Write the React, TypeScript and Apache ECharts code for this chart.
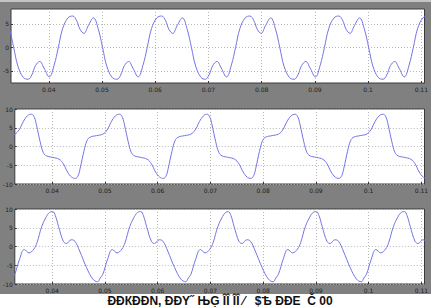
import React, { useEffect, useRef } from "react";
import * as echarts from "echarts";

const xTicks = [0.04, 0.05, 0.06, 0.07, 0.08, 0.09, 0.1, 0.11];
const yTicks1 = [-5, 0, 5];
const yTicks23 = [-10, -5, 0, 5, 10];
const caption = "ÐÐКÐÐN, ÐÐY˝ ЊĢ ÎÎ ÎÎ ⁄   $Ѣ ÐÐЕ  Č 00";

const wave1: [number, number][] = [
  [0.0317, 6.3], [0.0326, 3.9], [0.0334, 0], [0.0342, -4.0], [0.0352, -6.4],
  [0.0361, -6.8], [0.0368, -5.9], [0.0375, -3.9], [0.0383, -3.0], [0.0391, -4.4], [0.0401, -6.3], [0.041, -3.8],
  [0.0418, 0], [0.0426, 4.0], [0.0436, 6.3], [0.0445, 6.7], [0.0452, 5.8], [0.0459, 3.8], [0.0466, 3.0],
  [0.0474, 4.6], [0.0484, 6.3], [0.0493, 3.9], [0.0501, 0], [0.0509, -4.0], [0.0519, -6.4],
  [0.0528, -6.8], [0.0535, -5.9], [0.0542, -3.9], [0.055, -3.0], [0.0558, -4.4], [0.0568, -6.3], [0.0577, -3.8],
  [0.0585, 0], [0.0593, 4.0], [0.0603, 6.3], [0.0612, 6.7], [0.0619, 5.8], [0.0626, 3.8], [0.0633, 3.0],
  [0.0641, 4.6], [0.0651, 6.3], [0.066, 3.9], [0.0668, 0], [0.0676, -4.0], [0.0686, -6.4],
  [0.0694, -6.8], [0.0701, -5.9], [0.0708, -3.9], [0.0716, -3.0], [0.0724, -4.4], [0.0734, -6.3], [0.0743, -3.8],
  [0.0751, 0], [0.0759, 4.0], [0.0769, 6.3], [0.0778, 6.7], [0.0785, 5.8], [0.0792, 3.8], [0.0799, 3.0],
  [0.0807, 4.6], [0.0817, 6.3], [0.0826, 3.9], [0.0834, 0], [0.0842, -4.0], [0.0852, -6.4],
  [0.0861, -6.8], [0.0868, -5.9], [0.0875, -3.9], [0.0883, -3.0], [0.0891, -4.4], [0.0901, -6.3], [0.091, -3.8],
  [0.0918, 0], [0.0926, 4.0], [0.0936, 6.3], [0.0945, 6.7], [0.0952, 5.8], [0.0959, 3.8], [0.0966, 3.0],
  [0.0974, 4.6], [0.0984, 6.3], [0.0993, 3.9], [0.1001, 0], [0.1009, -4.0], [0.1019, -6.4],
  [0.1028, -6.8], [0.1035, -5.9], [0.1042, -3.9], [0.105, -3.0], [0.1058, -4.4], [0.1068, -6.3], [0.1077, -3.8],
  [0.1085, 0], [0.1093, 4.0], [0.1103, 6.3], [0.1112, 6.7],
];

const wave2: [number, number][] = [
  [0.0317, 2.9], [0.0329, 3.3], [0.0337, 4.4], [0.0345, 6.6], [0.0353, 8.2],
  [0.0361, 8.6], [0.0366, 7.8], [0.037, 5.8], [0.0377, 1.3], [0.0383, -1.6], [0.0389, -2.5], [0.0401, -2.9],
  [0.0413, -3.4], [0.0421, -4.6], [0.0429, -6.8], [0.0437, -8.2], [0.0444, -8.5], [0.0449, -7.8], [0.0453, -5.8],
  [0.046, -1.3], [0.0466, 1.6], [0.0472, 2.5], [0.0484, 2.9], [0.0496, 3.3], [0.0504, 4.4], [0.0512, 6.6], [0.052, 8.2],
  [0.0528, 8.6], [0.0533, 7.8], [0.0537, 5.8], [0.0544, 1.3], [0.055, -1.6], [0.0556, -2.5], [0.0568, -2.9],
  [0.058, -3.4], [0.0588, -4.6], [0.0596, -6.8], [0.0604, -8.2], [0.0611, -8.5], [0.0616, -7.8], [0.062, -5.8],
  [0.0627, -1.3], [0.0633, 1.6], [0.0639, 2.5], [0.0651, 2.9], [0.0663, 3.3], [0.0671, 4.4], [0.0679, 6.6], [0.0687, 8.2],
  [0.0694, 8.6], [0.0699, 7.8], [0.0703, 5.8], [0.071, 1.3], [0.0716, -1.6], [0.0722, -2.5], [0.0734, -2.9],
  [0.0746, -3.4], [0.0754, -4.6], [0.0762, -6.8], [0.077, -8.2], [0.0777, -8.5], [0.0782, -7.8], [0.0786, -5.8],
  [0.0793, -1.3], [0.0799, 1.6], [0.0805, 2.5], [0.0817, 2.9], [0.0829, 3.3], [0.0837, 4.4], [0.0845, 6.6], [0.0853, 8.2],
  [0.0861, 8.6], [0.0866, 7.8], [0.087, 5.8], [0.0877, 1.3], [0.0883, -1.6], [0.0889, -2.5], [0.0901, -2.9],
  [0.0913, -3.4], [0.0921, -4.6], [0.0929, -6.8], [0.0937, -8.2], [0.0944, -8.5], [0.0949, -7.8], [0.0953, -5.8],
  [0.096, -1.3], [0.0966, 1.6], [0.0972, 2.5], [0.0984, 2.9], [0.0996, 3.3], [0.1004, 4.4], [0.1012, 6.6], [0.102, 8.2],
  [0.1028, 8.6], [0.1033, 7.8], [0.1037, 5.8], [0.1044, 1.3], [0.105, -1.6], [0.1056, -2.5], [0.1068, -2.9],
  [0.108, -3.4], [0.1088, -4.6], [0.1096, -6.8], [0.1104, -8.2], [0.1111, -8.5],
];

const wave3: [number, number][] = [
  [0.0319, -9.4], [0.0324, -8.4], [0.0329, -7.4], [0.0338, -3.4], [0.0347, -0.8], [0.0356, -1.7], [0.0365, -0.7],
  [0.0371, 1.0], [0.038, 5.3], [0.0389, 8.0], [0.0395, 9.1],
  [0.0401, 9.3], [0.0406, 8.2], [0.0412, 5.3], [0.0421, 1.4], [0.0427, 0.8], [0.0436, 1.8], [0.0443, 1.4],
  [0.0452, -1.2], [0.0465, -5.6], [0.0477, -8.7], [0.0486, -9.4], [0.0491, -8.4], [0.0496, -7.4], [0.0505, -3.4],
  [0.0514, -0.8], [0.0523, -1.7], [0.0532, -0.7], [0.0538, 1.0], [0.0547, 5.3], [0.0556, 8.0], [0.0562, 9.1],
  [0.0568, 9.3], [0.0573, 8.2], [0.0579, 5.3], [0.0588, 1.4], [0.0594, 0.8], [0.0603, 1.8], [0.061, 1.4],
  [0.0619, -1.2], [0.0632, -5.6], [0.0644, -8.7], [0.0653, -9.4], [0.0658, -8.4], [0.0663, -7.4], [0.0672, -3.4],
  [0.0681, -0.8], [0.069, -1.7], [0.0699, -0.7], [0.0705, 1.0], [0.0714, 5.3], [0.0723, 8.0], [0.0729, 9.1],
  [0.0734, 9.3], [0.0739, 8.2], [0.0745, 5.3], [0.0754, 1.4], [0.076, 0.8], [0.0769, 1.8], [0.0776, 1.4],
  [0.0785, -1.2], [0.0798, -5.6], [0.081, -8.7], [0.0819, -9.4], [0.0824, -8.4], [0.0829, -7.4], [0.0838, -3.4],
  [0.0847, -0.8], [0.0856, -1.7], [0.0865, -0.7], [0.0871, 1.0], [0.088, 5.3], [0.0889, 8.0], [0.0895, 9.1],
  [0.0901, 9.3], [0.0906, 8.2], [0.0912, 5.3], [0.0921, 1.4], [0.0927, 0.8], [0.0936, 1.8], [0.0943, 1.4],
  [0.0952, -1.2], [0.0965, -5.6], [0.0977, -8.7], [0.0986, -9.4], [0.0991, -8.4], [0.0996, -7.4], [0.1005, -3.4],
  [0.1014, -0.8], [0.1023, -1.7], [0.1032, -0.7], [0.1038, 1.0], [0.1047, 5.3], [0.1056, 8.0], [0.1062, 9.1],
  [0.1068, 9.3], [0.1073, 8.2], [0.1079, 5.3], [0.1088, 1.4], [0.1094, 0.8], [0.1103, 1.8], [0.111, 1.4],
];

const X_MIN = 0.0329;
const X_MAX = 0.1106;
const LINE_COLOR = "#7474e4";
const GRID_COLOR = "#b8b8b8";
const LABEL_COLOR = "#1e1e1e";

function makeX(gridIndex: number) {
  return {
    type: "value",
    gridIndex,
    min: X_MIN,
    max: X_MAX,
    axisLine: { show: false, onZero: false },
    axisTick: { show: true, inside: true, length: 2, customValues: xTicks, lineStyle: { color: "#333", width: 1 } },
    axisLabel: {
      customValues: xTicks,
      color: LABEL_COLOR,
      fontSize: 6,
      fontFamily: "DejaVu Sans",
      margin: 3,
      formatter: (v: number) => String(parseFloat(v.toFixed(2))),
    },
    splitLine: { show: true, lineStyle: { color: GRID_COLOR, type: [1, 2], width: 1 } },
  };
}

function makeY(gridIndex: number, min: number, max: number, ticks: number[]) {
  return {
    type: "value",
    gridIndex,
    min,
    max,
    axisLine: { show: false, onZero: false },
    axisTick: { show: true, inside: true, length: 2, customValues: ticks, lineStyle: { color: "#333", width: 1 } },
    axisLabel: {
      customValues: ticks,
      color: LABEL_COLOR,
      fontSize: 6,
      fontFamily: "DejaVu Sans",
      margin: 2,
    },
    splitLine: { show: true, lineStyle: { color: GRID_COLOR, type: [1, 2], width: 1 } },
  };
}

function makeSeries(data: [number, number][], idx: number) {
  return {
    type: "line",
    xAxisIndex: idx,
    yAxisIndex: idx,
    data,
    smooth: 0.4,
    showSymbol: false,
    symbol: "none",
    clip: true,
    lineStyle: { color: LINE_COLOR, width: 1 },
  };
}

export default function App() {
  const ref = useRef<HTMLDivElement>(null);
  useEffect(() => {
    const chart = echarts.init(ref.current!, null, { renderer: "svg" });
    const gridBase = {
      show: true,
      left: 11,
      width: 414,
      backgroundColor: "#ffffff",
      borderColor: "#3a3a3a",
      borderWidth: 1,
    };
    chart.setOption({
      animation: false,
      backgroundColor: "#ffffff",
      graphic: [
        { type: "rect", z: -10, shape: { x: 0, y: 0, width: 431, height: 294 }, style: { fill: "#808080" }, silent: true },
        { type: "rect", z: -9, shape: { x: 0, y: 0, width: 431, height: 2 }, style: { fill: "#c4c4c4" }, silent: true },
        {
          type: "text",
          x: 220,
          y: 301,
          style: {
            text: caption,
            fill: "#111",
            font: "bold 12px 'Liberation Sans Narrow', 'Liberation Sans', sans-serif",
            textAlign: "center",
            textVerticalAlign: "middle",
          },
        },
      ],
      grid: [
        { ...gridBase, top: 9, height: 74 },
        { ...gridBase, top: 109, height: 75 },
        { ...gridBase, top: 209, height: 75 },
      ],
      xAxis: [makeX(0), makeX(1), makeX(2)],
      yAxis: [
        makeY(0, -7.6, 8.2, yTicks1),
        makeY(1, -10, 10, yTicks23),
        makeY(2, -10, 10, yTicks23),
      ],
      series: [makeSeries(wave1, 0), makeSeries(wave2, 1), makeSeries(wave3, 2)],
    });
    return () => chart.dispose();
  }, []);
  return (
    <div
      ref={ref}
      style={{ position: "fixed", left: 0, top: 0, width: 431, height: 307 }}
    />
  );
}
